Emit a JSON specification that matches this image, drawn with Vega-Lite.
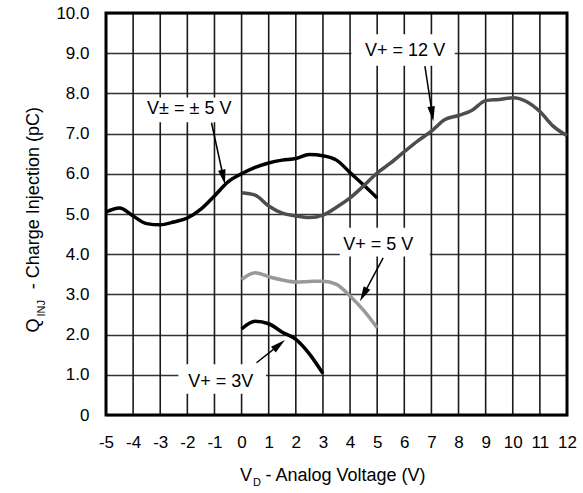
{
  "$schema": "https://vega.github.io/schema/vega-lite/v6.json",
  "width": 461,
  "height": 402,
  "autosize": {"type": "none"},
  "padding": {"left": 106, "top": 13, "right": 16, "bottom": 78},
  "background": "white",
  "config": {
    "view": {"stroke": null},
    "font": "Liberation Sans",
    "axis": {
      "domain": false,
      "ticks": false,
      "labelFont": "Liberation Sans",
      "labelFontSize": 17,
      "labelColor": "#000000",
      "gridWidth": 1.6
    },
    "axisY": {"grid": true, "gridColor": "#333333", "gridOpacity": 1}
  },
  "datasets": {
    "xgrid": [
      {"x": -4, "y": 0, "y2": 10}, {"x": -3, "y": 0, "y2": 10}, {"x": -2, "y": 0, "y2": 10}, {"x": -1, "y": 0, "y2": 10},
      {"x": 0, "y": 0, "y2": 10}, {"x": 1, "y": 0, "y2": 10}, {"x": 2, "y": 0, "y2": 10}, {"x": 3, "y": 0, "y2": 10},
      {"x": 4, "y": 0, "y2": 10}, {"x": 5, "y": 0, "y2": 10}, {"x": 6, "y": 0, "y2": 10}, {"x": 7, "y": 0, "y2": 10},
      {"x": 8, "y": 0, "y2": 10}, {"x": 9, "y": 0, "y2": 10}, {"x": 10, "y": 0, "y2": 10}, {"x": 11, "y": 0, "y2": 10}
    ],
    "frame": [{"x": -5, "x2": 12, "y": 0, "y2": 10}],
    "curves": [
      {"series": "pm5", "x": -5, "y": 5.05}, {"series": "pm5", "x": -4.5, "y": 5.15}, {"series": "pm5", "x": -4, "y": 4.95},
      {"series": "pm5", "x": -3.5, "y": 4.76}, {"series": "pm5", "x": -3, "y": 4.73}, {"series": "pm5", "x": -2.5, "y": 4.8},
      {"series": "pm5", "x": -2, "y": 4.9}, {"series": "pm5", "x": -1.5, "y": 5.12}, {"series": "pm5", "x": -1, "y": 5.45},
      {"series": "pm5", "x": -0.5, "y": 5.8}, {"series": "pm5", "x": 0, "y": 6.0}, {"series": "pm5", "x": 0.5, "y": 6.16},
      {"series": "pm5", "x": 1, "y": 6.27}, {"series": "pm5", "x": 1.5, "y": 6.34}, {"series": "pm5", "x": 2, "y": 6.38},
      {"series": "pm5", "x": 2.5, "y": 6.48}, {"series": "pm5", "x": 3, "y": 6.45}, {"series": "pm5", "x": 3.5, "y": 6.34},
      {"series": "pm5", "x": 4, "y": 6.03}, {"series": "pm5", "x": 4.5, "y": 5.72}, {"series": "pm5", "x": 5, "y": 5.4},
      {"series": "v12", "x": 0, "y": 5.53}, {"series": "v12", "x": 0.5, "y": 5.47}, {"series": "v12", "x": 1, "y": 5.2},
      {"series": "v12", "x": 1.5, "y": 5.02}, {"series": "v12", "x": 2, "y": 4.95}, {"series": "v12", "x": 2.5, "y": 4.91},
      {"series": "v12", "x": 3, "y": 4.97}, {"series": "v12", "x": 3.5, "y": 5.17}, {"series": "v12", "x": 4, "y": 5.4},
      {"series": "v12", "x": 4.5, "y": 5.7}, {"series": "v12", "x": 5, "y": 6.02}, {"series": "v12", "x": 5.5, "y": 6.27},
      {"series": "v12", "x": 6, "y": 6.55}, {"series": "v12", "x": 6.5, "y": 6.82}, {"series": "v12", "x": 7, "y": 7.06},
      {"series": "v12", "x": 7.5, "y": 7.35}, {"series": "v12", "x": 8, "y": 7.45}, {"series": "v12", "x": 8.5, "y": 7.58},
      {"series": "v12", "x": 9, "y": 7.82}, {"series": "v12", "x": 9.5, "y": 7.85}, {"series": "v12", "x": 10, "y": 7.89},
      {"series": "v12", "x": 10.5, "y": 7.8}, {"series": "v12", "x": 11, "y": 7.55}, {"series": "v12", "x": 11.5, "y": 7.18},
      {"series": "v12", "x": 12, "y": 6.95},
      {"series": "v5", "x": 0, "y": 3.37}, {"series": "v5", "x": 0.5, "y": 3.54}, {"series": "v5", "x": 1, "y": 3.44},
      {"series": "v5", "x": 1.5, "y": 3.36}, {"series": "v5", "x": 2, "y": 3.31}, {"series": "v5", "x": 2.5, "y": 3.32},
      {"series": "v5", "x": 3, "y": 3.33}, {"series": "v5", "x": 3.5, "y": 3.25}, {"series": "v5", "x": 4, "y": 2.96},
      {"series": "v5", "x": 4.5, "y": 2.6}, {"series": "v5", "x": 5, "y": 2.17},
      {"series": "v3", "x": 0, "y": 2.14}, {"series": "v3", "x": 0.5, "y": 2.33}, {"series": "v3", "x": 1, "y": 2.27},
      {"series": "v3", "x": 1.5, "y": 2.06}, {"series": "v3", "x": 2, "y": 1.88}, {"series": "v3", "x": 2.5, "y": 1.52},
      {"series": "v3", "x": 3, "y": 1.03}
    ],
    "boxes": [
      {"x": -3.95, "x2": -0.05, "y": 7.28, "y2": 7.9},
      {"x": 4.05, "x2": 7.86, "y": 8.69, "y2": 9.47},
      {"x": 3.62, "x2": 6.94, "y": 3.94, "y2": 4.66},
      {"x": -2.33, "x2": 0.9, "y": 0.53, "y2": 1.26}
    ],
    "labels": [
      {"label": "V± = ± 5 V", "x": -1.93, "y": 7.6},
      {"label": "V+ = 12 V", "x": 6.03, "y": 9.05},
      {"label": "V+ = 5 V", "x": 5.04, "y": 4.24},
      {"label": "V+ = 3V", "x": -0.77, "y": 0.82}
    ],
    "arrows": [
      {"x": -1.11, "y": 7.27, "x2": -0.671, "y2": 5.915},
      {"x": 6.76, "y": 8.68, "x2": 7.03, "y2": 7.49},
      {"x": 5.22, "y": 3.91, "x2": 4.495, "y2": 2.995},
      {"x": 0.55, "y": 1.3, "x2": 1.386, "y2": 1.746}
    ],
    "ytitle": [
      {"label": "Q", "x": -7.67, "y": 2.05},
      {"label": "- Charge Injection (pC)", "x": -7.67, "y": 3.13}
    ],
    "ysub": [{"label": "INJ", "x": -7.36, "y": 2.45}],
    "xtitle": [
      {"label": "V", "x": -0.06, "y": -1.52},
      {"label": "- Analog Voltage (V)", "x": 0.88, "y": -1.52}
    ],
    "xsub": [{"label": "D", "x": 0.42, "y": -1.68}]
  },
  "encoding": {
    "x": {
      "field": "x",
      "type": "quantitative",
      "scale": {"domain": [-5, 12], "nice": false, "zero": false},
      "axis": {
        "title": null,
        "values": [-5, -4, -3, -2, -1, 0, 1, 2, 3, 4, 5, 6, 7, 8, 9, 10, 11, 12],
        "grid": false,
        "labelPadding": 19,
        "labelFlush": false,
        "labelOverlap": false,
        "labelExpr": "'' + datum.value"
      }
    },
    "y": {
      "field": "y",
      "type": "quantitative",
      "scale": {"domain": [0, 10], "nice": false, "zero": false},
      "axis": {
        "title": null,
        "values": [0, 1, 2, 3, 4, 5, 6, 7, 8, 9, 10],
        "grid": true,
        "labelPadding": 17,
        "labelFlush": false,
        "labelOverlap": false,
        "labelExpr": "datum.value == 0 ? '0' : format(datum.value, '.1f')"
      }
    }
  },
  "layer": [
    {
      "data": {"name": "xgrid"},
      "mark": {"type": "rule", "color": "#1a1a1a", "strokeWidth": 1.6},
      "encoding": {"y2": {"field": "y2"}}
    },
    {
      "data": {"name": "boxes"},
      "mark": {"type": "rect", "fill": "#ffffff", "stroke": null},
      "encoding": {"x2": {"field": "x2"}, "y2": {"field": "y2"}}
    },
    {
      "data": {"name": "frame"},
      "mark": {"type": "rect", "fill": null, "filled": false, "stroke": "#000000", "strokeWidth": 3},
      "encoding": {"x2": {"field": "x2"}, "y2": {"field": "y2"}}
    },
    {
      "data": {"name": "curves"},
      "mark": {"type": "line", "interpolate": "monotone", "strokeWidth": 3.5},
      "encoding": {
        "color": {
          "field": "series",
          "type": "nominal",
          "scale": {"domain": ["pm5", "v12", "v5", "v3"], "range": ["#000000", "#4d4d4d", "#999999", "#000000"]},
          "legend": null
        }
      }
    },
    {
      "data": {"name": "arrows"},
      "mark": {"type": "rule", "color": "#000000", "strokeWidth": 1.5},
      "encoding": {"x2": {"field": "x2"}, "y2": {"field": "y2"}}
    },
    {
      "data": {"values": [{"x": -0.671, "y": 5.915}]},
      "mark": {"type": "point", "shape": "M0,-1L0.5,1L-0.5,1Z", "filled": true, "color": "#000000", "opacity": 1, "size": 225, "angle": 167.8}
    },
    {
      "data": {"values": [{"x": 7.03, "y": 7.49}]},
      "mark": {"type": "point", "shape": "M0,-1L0.5,1L-0.5,1Z", "filled": true, "color": "#000000", "opacity": 1, "size": 225, "angle": 171.4}
    },
    {
      "data": {"values": [{"x": 4.495, "y": 2.995}]},
      "mark": {"type": "point", "shape": "M0,-1L0.5,1L-0.5,1Z", "filled": true, "color": "#000000", "opacity": 1, "size": 225, "angle": 208.2}
    },
    {
      "data": {"values": [{"x": 1.386, "y": 1.746}]},
      "mark": {"type": "point", "shape": "M0,-1L0.5,1L-0.5,1Z", "filled": true, "color": "#000000", "opacity": 1, "size": 225, "angle": 50.5}
    },
    {
      "data": {"name": "labels"},
      "mark": {"type": "text", "font": "Liberation Sans", "fontSize": 18, "align": "center", "baseline": "middle", "color": "#000000"},
      "encoding": {"text": {"field": "label"}}
    },
    {
      "data": {"name": "ytitle"},
      "mark": {"type": "text", "font": "Liberation Sans", "fontSize": 18, "align": "left", "baseline": "middle", "angle": 270, "color": "#000000"},
      "encoding": {"text": {"field": "label"}}
    },
    {
      "data": {"name": "ysub"},
      "mark": {"type": "text", "font": "Liberation Sans", "fontSize": 11, "align": "left", "baseline": "middle", "angle": 270, "color": "#000000"},
      "encoding": {"text": {"field": "label"}}
    },
    {
      "data": {"name": "xtitle"},
      "mark": {"type": "text", "font": "Liberation Sans", "fontSize": 18, "align": "left", "baseline": "middle", "color": "#000000"},
      "encoding": {"text": {"field": "label"}}
    },
    {
      "data": {"name": "xsub"},
      "mark": {"type": "text", "font": "Liberation Sans", "fontSize": 11, "align": "left", "baseline": "middle", "color": "#000000"},
      "encoding": {"text": {"field": "label"}}
    }
  ]
}
